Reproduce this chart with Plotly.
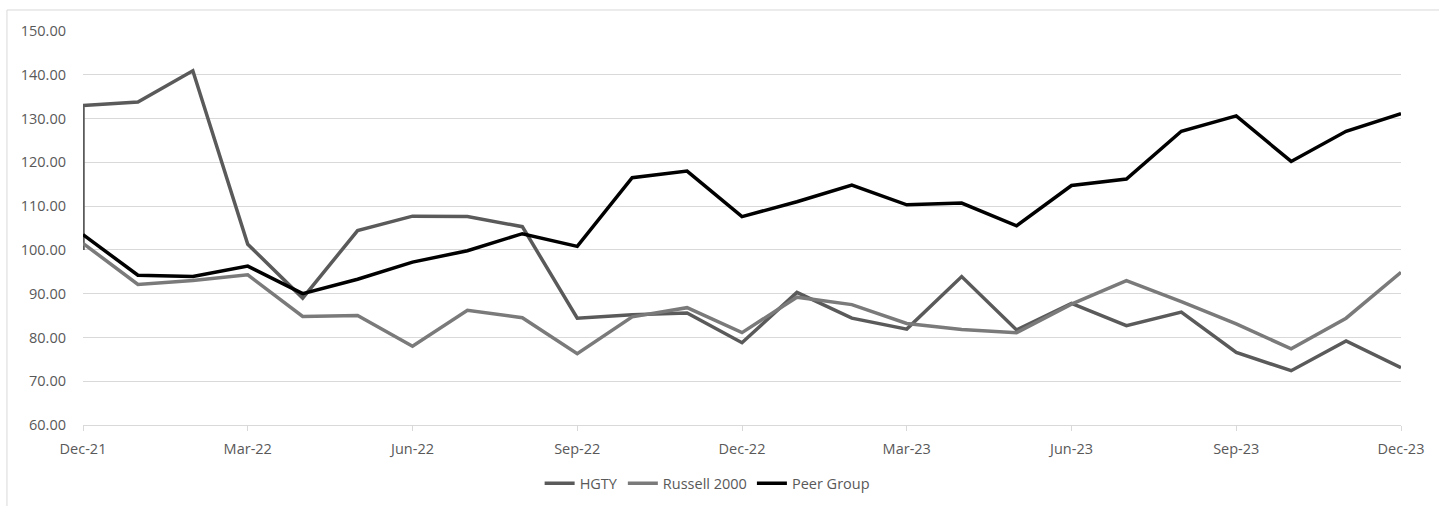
import plotly.graph_objects as go

months = ["Dec-21", "Jan-22", "Feb-22", "Mar-22", "Apr-22", "May-22", "Jun-22", "Jul-22",
          "Aug-22", "Sep-22", "Oct-22", "Nov-22", "Dec-22", "Jan-23", "Feb-23", "Mar-23",
          "Apr-23", "May-23", "Jun-23", "Jul-23", "Aug-23", "Sep-23", "Oct-23", "Nov-23", "Dec-23"]

# HGTY has an extra base point (100) plotted at Dec-21
hgty_x = ["Dec-21"] + months
hgty = [100.0, 133.0, 133.8, 140.9, 101.3, 89.0, 104.4, 107.7, 107.6, 105.3, 84.4, 85.2, 85.6,
        78.8, 90.3, 84.4, 81.9, 93.9, 81.7, 87.8, 82.7, 85.8, 76.6, 72.4, 79.2, 73.1]
russell = [101.5, 92.1, 93.0, 94.3, 84.8, 85.0, 78.0, 86.2, 84.5, 76.3, 84.7, 86.8, 81.1,
           89.2, 87.5, 83.2, 81.8, 81.1, 87.6, 93.0, 88.2, 83.1, 77.4, 84.4, 94.9]
peer = [103.5, 94.2, 93.9, 96.3, 90.0, 93.3, 97.2, 99.8, 103.7, 100.8, 116.5, 118.0, 107.6,
        111.0, 114.8, 110.3, 110.7, 105.5, 114.7, 116.2, 127.1, 130.6, 120.2, 127.1, 131.1]

tick_labels = ["Dec-21", "Mar-22", "Jun-22", "Sep-22", "Dec-22", "Mar-23", "Jun-23", "Sep-23", "Dec-23"]
y_ticks = [60, 70, 80, 90, 100, 110, 120, 130, 140, 150]

font = dict(family="Open Sans, Liberation Sans, Arial, sans-serif", size=14.5, color="#595959")

fig = go.Figure()
fig.add_trace(go.Scatter(x=hgty_x, y=hgty, mode="lines", name="HGTY",
                         line=dict(color="#5a5a5a", width=3.5)))
fig.add_trace(go.Scatter(x=months, y=russell, mode="lines", name="Russell 2000",
                         line=dict(color="#7a7a7a", width=3.5)))
fig.add_trace(go.Scatter(x=months, y=peer, mode="lines", name="Peer Group",
                         line=dict(color="#000000", width=3.5)))

fig.update_layout(
    width=1439, height=506,
    margin=dict(l=83, r=38, t=31, b=81, autoexpand=False),
    paper_bgcolor="white", plot_bgcolor="white",
    font=font,
    showlegend=True,
    legend=dict(orientation="h", xref="container", yref="container",
                x=0.375, xanchor="left", y=0.045, yanchor="middle",
                font=font, itemwidth=30, tracegroupgap=0, bgcolor="rgba(0,0,0,0)"),
    xaxis=dict(type="category", categoryorder="array", categoryarray=months,
               range=[0, len(months) - 1], tickmode="array", tickvals=tick_labels,
               ticktext=tick_labels, showgrid=False, showline=True, linecolor="#d9d9d9",
               linewidth=1, ticks="outside", ticklen=5, tickcolor="#d9d9d9",
               ticklabelstandoff=6, zeroline=False, fixedrange=True, automargin=False),
    yaxis=dict(range=[60, 150], tickmode="array", tickvals=y_ticks, tickformat=".2f",
               showgrid=True, gridcolor="#d9d9d9", gridwidth=1, zeroline=False,
               showline=False, ticks="", ticklabelstandoff=16, fixedrange=True, automargin=False),
    shapes=[
        dict(type="line", xref="paper", yref="paper", x0=-0.0577, x1=1.03, y0=1.0533, y1=1.0533,
             line=dict(color="#d9d9d9", width=1)),
        dict(type="line", xref="paper", yref="paper", x0=-0.0577, x1=-0.0577, y0=-0.21, y1=1.0533,
             line=dict(color="#d9d9d9", width=1)),
    ],
)

fig.write_html("out.html")
